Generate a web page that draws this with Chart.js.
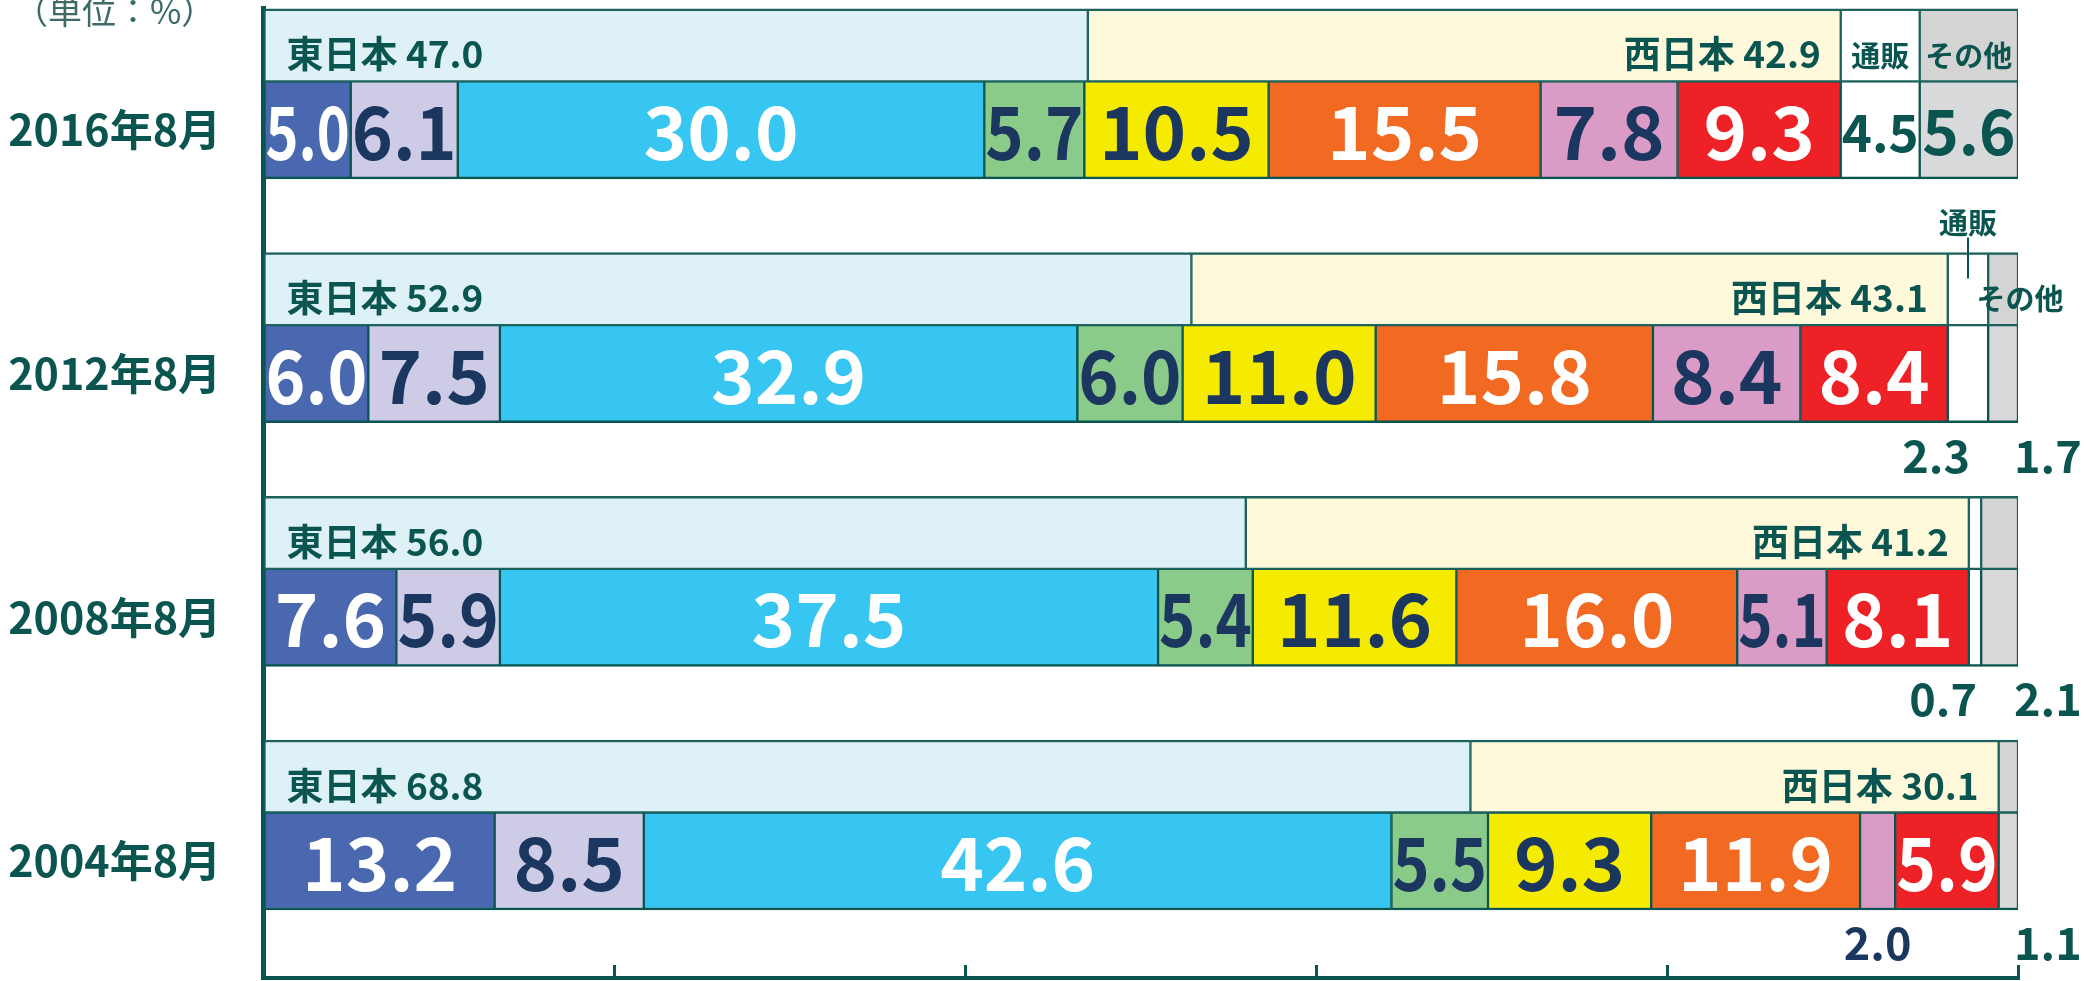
<!DOCTYPE html>
<html><head><meta charset="utf-8">
<script src="https://cdn.jsdelivr.net/npm/chart.js@4.4.1/dist/chart.umd.min.js"></script>
<style>html,body{margin:0;padding:0;background:#fff;}canvas{display:block;}</style>
</head><body>
<canvas id="c" width="2084" height="981"></canvas>
<script>
// ---- data ----
const years = ['2016年8月', '2012年8月', '2008年8月', '2004年8月'];
// top row (region split)
const east      = [47.0, 52.9, 56.0, 68.8];
const west      = [42.9, 43.1, 41.2, 30.1];
const mailTop   = [4.5, 2.3, 0.7, 0];
const otherTop  = [5.6, 1.7, 2.1, 1.1];
// bottom row (detailed split)
const hokkaido  = [5.0, 6.0, 7.6, 13.2];
const tohoku    = [6.1, 7.5, 5.9, 8.5];
const kanto     = [30.0, 32.9, 37.5, 42.6];
const koshin    = [5.7, 6.0, 5.4, 5.5];
const tokai     = [10.5, 11.0, 11.6, 9.3];
const kinki     = [15.5, 15.8, 16.0, 11.9];
const chushi    = [7.8, 8.4, 5.1, 2.0];
const kyushu    = [9.3, 8.4, 8.1, 5.9];
const mail      = [4.5, 2.3, 0.7, 0];
const other     = [5.6, 1.7, 2.1, 1.1];
const xTicks    = [0, 20, 40, 60, 80, 100];
const namedRows = ['2016年8月', '2012年8月'];

// ---- style ----
const TEAL = '#0B5550', NAVY = '#1B365F', WHITE = '#FFFFFF';
const FONT = "'Noto Sans CJK JP', 'Noto Sans', sans-serif";

const topSeries = [
  {label: '東日本', values: east,     color: '#DDF1F7'},
  {label: '西日本', values: west,     color: '#FEF9DB'},
  {label: '通販',   values: mailTop,  color: '#FFFFFF'},
  {label: 'その他', values: otherTop, color: '#D4D4D4'}
];
const bottomSeries = [
  {label: '北海道',     values: hokkaido, color: '#4A68B0', text: WHITE, size: 74},
  {label: '東北',       values: tohoku,   color: '#CDCBE6', text: NAVY,  size: 74},
  {label: '関東',       values: kanto,    color: '#37C5F1', text: WHITE, size: 74},
  {label: '甲信越',     values: koshin,   color: '#8ACB8A', text: NAVY,  size: 74},
  {label: '東海',       values: tokai,    color: '#F5EB00', text: NAVY,  size: 74},
  {label: '近畿',       values: kinki,    color: '#F26A21', text: WHITE, size: 74},
  {label: '中国・四国', values: chushi,   color: '#DA9CC6', text: NAVY,  size: 74},
  {label: '九州・沖縄', values: kyushu,   color: '#EE2226', text: WHITE, size: 74},
  {label: '通販',       values: mail,     color: '#FFFFFF', text: TEAL,  size: 52},
  {label: 'その他',     values: other,    color: '#D8D9DA', text: TEAL,  size: 62}
];

const toPts = arr => arr.map((v, i) => ({x: v, y: i}));

const datasets = [];
topSeries.forEach(s => datasets.push({
  label: s.label, data: toPts(s.values), yAxisID: 'yTop', stack: 'top',
  backgroundColor: s.color, borderColor: '#1D625D',
  borderWidth: {top: 2.5, bottom: 2, left: 1.5, right: 1.5}, borderSkipped: false,
  barThickness: 73, grouped: false, row: 'top'
}));
bottomSeries.forEach(s => datasets.push({
  label: s.label, data: toPts(s.values), yAxisID: 'yBot', stack: 'bot',
  backgroundColor: s.color, borderColor: TEAL,
  borderWidth: {top: 2, bottom: 2.5, left: 1.5, right: 1.5}, borderSkipped: false,
  barThickness: 98, grouped: false, row: 'bot', textColor: s.text, textSize: s.size
}));

function drawFit(ctx, text, x, y, maxW, font, color, align) {
  ctx.save();
  ctx.font = font; ctx.fillStyle = color;
  ctx.textBaseline = 'middle'; ctx.textAlign = align || 'center';
  const tw = ctx.measureText(text).width;
  const s = (maxW && tw > maxW) ? maxW / tw : 1;
  ctx.translate(x, y); ctx.scale(s, 1);
  ctx.fillText(text, 0, 0);
  ctx.restore();
}

const labelPlugin = {
  id: 'segLabels',
  afterDraw(chart) {
    const ctx = chart.ctx;
    // unit note
    drawFit(ctx, '（単位：%）', 14, 11, 0, `400 34px ${FONT}`, '#3E6B68', 'left');
    chart.data.datasets.forEach((ds, di) => {
      const meta = chart.getDatasetMeta(di);
      meta.data.forEach((el, i) => {
        const v = ds.data[i].x;
        if (!v) return;
        const p = el.getProps(['x', 'y', 'base', 'height'], true);
        const left = Math.min(p.x, p.base), right = Math.max(p.x, p.base);
        const w = right - left, cx = (left + right) / 2, cy = p.y;
        const topEdge = cy - p.height / 2, botEdge = cy + p.height / 2;
        const txt = v.toFixed(1);
        if (ds.row === 'bot') {
          if (v < 3) {
            const y = botEdge + 33, f = `700 45px ${FONT}`;
            if (ds.label === '通販') drawFit(ctx, txt, cx + 2, y, 0, f, ds.textColor, 'right');
            else if (ds.label === 'その他') drawFit(ctx, txt, right - 4, y, 0, f, ds.textColor, 'left');
            else drawFit(ctx, txt, cx, y, 0, f, ds.textColor, 'center');
          } else {
            drawFit(ctx, txt, cx, cy + 2, w - 2, `700 ${ds.textSize}px ${FONT}`, ds.textColor, 'center');
          }
        } else {
          const f = `700 37px ${FONT}`;
          if (ds.label === '東日本') {
            drawFit(ctx, `${ds.label} ${txt}`, left + 22, cy + 9, 0, f, TEAL, 'left');
          } else if (ds.label === '西日本') {
            drawFit(ctx, `${ds.label} ${txt}`, right - 20, cy + 9, 0, f, TEAL, 'right');
          } else {
            if (!namedRows.includes(years[i])) return;
            const nf = `700 29px ${FONT}`;
            if (w > 50) {
              drawFit(ctx, ds.label, cx, cy + 11, w - 6, nf, TEAL, 'center');
            } else if (ds.label === '通販') {
              drawFit(ctx, ds.label, cx, topEdge - 30, 0, nf, TEAL, 'center');
              ctx.save();
              ctx.strokeStyle = TEAL; ctx.lineWidth = 2;
              ctx.beginPath(); ctx.moveTo(cx, topEdge - 15); ctx.lineTo(cx, topEdge + 26); ctx.stroke();
              ctx.restore();
            } else {
              drawFit(ctx, ds.label, right + 2, cy + 10, 0, nf, TEAL, 'center');
            }
          }
        }
      });
    });
  }
};

new Chart(document.getElementById('c'), {
  type: 'bar',
  data: {datasets},
  plugins: [labelPlugin],
  options: {
    indexAxis: 'y',
    responsive: false,
    devicePixelRatio: 1,
    animation: false,
    layout: {padding: {top: 8, right: 66, bottom: 3, left: 0}},
    plugins: {legend: {display: false}, tooltip: {enabled: false}},
    scales: {
      x: {
        type: 'linear', min: 0, max: 100, stacked: true, z: 1,
        afterBuildTicks: axis => { axis.ticks = xTicks.map(v => ({value: v})); },
        afterFit: axis => { axis.paddingLeft = 0; axis.paddingRight = 0; },
        ticks: {display: false},
        grid: {display: true, drawOnChartArea: false, drawTicks: true, tickLength: -13, color: TEAL, lineWidth: 3},
        border: {display: true, color: TEAL, width: 4}
      },
      yBot: {
        type: 'linear', position: 'left', reverse: true, min: -0.5, max: 3.48, stacked: true, offset: false, z: 1,
        afterBuildTicks: axis => { axis.ticks = years.map((_, i) => ({value: i})); },
        afterFit: axis => { axis.width = 263; axis.paddingTop = 0; axis.paddingBottom = 0; },
        ticks: {
          callback: v => years[v] || '',
          color: TEAL, padding: 42, autoSkip: false,
          font: {family: FONT, size: 43, weight: '700'}
        },
        grid: {display: false, drawTicks: false},
        border: {display: true, color: TEAL, width: 5}
      },
      yTop: {
        type: 'linear', display: false, reverse: true, min: -0.1533, max: 3.8267, stacked: true, offset: false
      }
    }
  }
});
</script>
</body></html>
